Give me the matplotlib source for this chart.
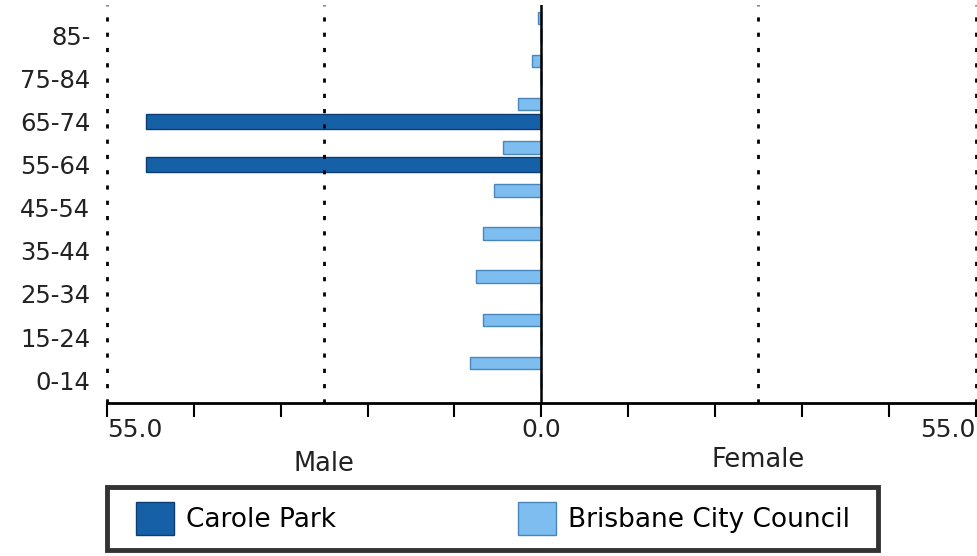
import numpy as np
import matplotlib
matplotlib.use("Agg")
from matplotlib import pyplot as plt
from matplotlib.patches import Patch, Rectangle

# Age groups, bottom to top
age_groups = ['0-14', '15-24', '25-34', '35-44', '45-54', '55-64', '65-74', '75-84', '85-']

# Percent of population (male shown to the left, female to the right)
carole_male = [0, 0, 0, 0, 0, 50.0, 50.0, 0, 0]
carole_female = [0, 0, 0, 0, 0, 0, 0, 0, 0]
brisbane_male = [9.0, 7.4, 8.3, 7.4, 6.0, 4.8, 2.9, 1.2, 0.4]
brisbane_female = [0, 0, 0, 0, 0, 0, 0, 0, 0]

dark_blue = '#1660a8'
light_blue = '#7dbdf0'

plt.rcParams['font.family'] = ['DejaVu Sans']

fig = plt.figure(figsize=(9.77, 5.56), dpi=100)
fig.patch.set_facecolor('white')
ax = fig.add_axes([0.1095, 0.275, 0.889, 0.716])

y = np.arange(len(age_groups))

# Carole Park bars centred on the label, council bars just above
ax.barh(y, -np.array(carole_male), height=0.35, color=dark_blue,
        edgecolor='#0d3d70', lw=1)
ax.barh(y, carole_female, height=0.35, color=dark_blue,
        edgecolor='#0d3d70', lw=1)
ax.barh(y + 0.4, -np.array(brisbane_male), height=0.29, color=light_blue,
        edgecolor='#4a86bb', lw=1)
ax.barh(y + 0.4, brisbane_female, height=0.29, color=light_blue,
        edgecolor='#4a86bb', lw=1)

# Dotted guides and the zero line
for xv in [-55, -27.5, 27.5, 55]:
    ax.axvline(xv, color='black', lw=2, ls=(0, (1.5, 4)), clip_on=False)
ax.axvline(0, color='black', lw=1.8)

ax.set_xlim(-55, 55)
ax.set_ylim(-0.53, 8.7)

for side in ['top', 'right', 'left']:
    ax.spines[side].set_visible(False)
ax.spines['bottom'].set_linewidth(2)

ax.set_xticks(np.arange(-55, 56, 11))
xlabels = [''] * 11
xlabels[0] = '55.0'
xlabels[5] = '0.0'
xlabels[10] = '55.0'
ax.set_xticklabels(xlabels, fontsize=18, color='#222222')
ax.tick_params(axis='x', length=10, width=1.5, direction='out', pad=1)
tl = ax.get_xticklabels()
tl[0].set_ha('left')
tl[10].set_ha('right')

ax.set_yticks(y)
ax.set_yticklabels(age_groups, fontsize=17.5, color='#222222')
ax.tick_params(axis='y', length=0, pad=12)

ax.text(-27.5, -0.152, 'Male', transform=ax.get_xaxis_transform(),
        ha='center', va='center', fontsize=18.5, color='#222222')
ax.text(27.5, -0.142, 'Female', transform=ax.get_xaxis_transform(),
        ha='center', va='center', fontsize=18.5, color='#222222')

# Legend box drawn separately so the inner spacing can follow the original
W, H = 977, 556
fig.patches.append(Rectangle((107 / W, 6 / H), 771 / W, 63 / H,
                             transform=fig.transFigure, facecolor='white',
                             edgecolor='#333333', lw=3.5, zorder=0))
handles = [Patch(facecolor=dark_blue, edgecolor='#0d3d70', label='Carole Park'),
           Patch(facecolor=light_blue, edgecolor='#4a86bb', label='Brisbane City Council')]
leg = fig.legend(handles=handles, loc='center left', ncol=2, mode='expand',
                 bbox_to_anchor=(128 / W, 6 / H, 730 / W, 63 / H),
                 borderaxespad=0, fontsize=19, handlelength=1.45,
                 handleheight=1.6, handletextpad=0.45, borderpad=0.3,
                 frameon=False)

fig.savefig('out.png', dpi=100, facecolor='white')
